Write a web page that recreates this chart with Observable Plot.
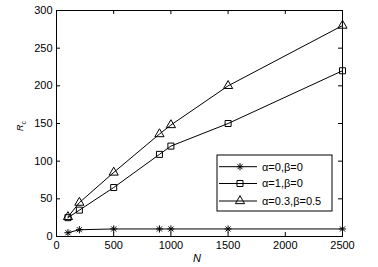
<!DOCTYPE html>
<html><head><meta charset="utf-8">
<script src="https://cdn.jsdelivr.net/npm/d3@7"></script>
<script src="https://cdn.jsdelivr.net/npm/@observablehq/plot@0.6"></script>
<style>body{margin:0;background:#fff}</style>
</head><body><div id="chart"></div>
<script>
const N = [100, 200, 500, 900, 1000, 1500, 2500];
const seriesA = [5, 9, 10, 10, 10, 10, 10];        // α=0,β=0
const seriesB = [25, 35, 65, 109, 120, 150, 220];  // α=1,β=0
const seriesC = [26, 45, 85, 136, 148, 200, 280];  // α=0.3,β=0.5
const labels = ["α=0,β=0", "α=1,β=0", "α=0.3,β=0.5"];
const xTicks = [0, 500, 1000, 1500, 2000, 2500];
const yTicks = [0, 50, 100, 150, 200, 250, 300];

// 8-armed asterisk like MATLAB '*'
const star8 = {
  draw(ctx, size) {
    const r = Math.sqrt(size / Math.PI) * 1.05;
    const d = r * Math.SQRT1_2;
    ctx.moveTo(-r, 0); ctx.lineTo(r, 0);
    ctx.moveTo(0, -r); ctx.lineTo(0, r);
    ctx.moveTo(-d, -d); ctx.lineTo(d, d);
    ctx.moveTo(-d, d); ctx.lineTo(d, -d);
  }
};
const symbols = [star8, d3.symbolSquare, d3.symbolTriangle];

const series = [seriesA, seriesB, seriesC];
const data = series.flatMap((vals, k) => vals.map((v, i) => ({N: N[i], R: v, k})));

const W = 378, H = 267, mL = 56, mR = 36, mT = 10, mB = 31;
const ph = H - mT - mB, pw = W - mL - mR;

const svg = Plot.plot({
  width: W, height: H,
  marginLeft: mL, marginRight: mR, marginTop: mT, marginBottom: mB,
  style: {fontFamily: "'Liberation Sans', Arial, sans-serif", fontSize: "11px", color: "#000", background: "#fff"},
  x: {domain: [0, 2500]},
  y: {domain: [0, 300]},
  marks: [
    Plot.axisX(xTicks, {tickSize: 0, tickPadding: 5, label: null, fontSize: 11, tickFormat: d => String(d)}),
    Plot.axisY(yTicks, {tickSize: 0, tickPadding: 4, label: null, fontSize: 11, tickFormat: d => String(d)}),
    Plot.tickX(xTicks, {x: d => d, insetTop: ph - 4, stroke: "#000"}),
    Plot.tickX(xTicks, {x: d => d, insetBottom: ph - 4, stroke: "#000"}),
    Plot.tickY(yTicks, {y: d => d, insetRight: pw - 4, stroke: "#000"}),
    Plot.tickY(yTicks, {y: d => d, insetLeft: pw - 4, stroke: "#000"}),
    Plot.line(data, {x: "N", y: "R", z: "k", stroke: "#000", strokeWidth: 1}),
    Plot.dot(data, {x: "N", y: "R", symbol: d => symbols[d.k], stroke: "#000", fill: "none", r: 3.4, strokeWidth: 1}),
    Plot.frame({stroke: "#000", strokeWidth: 1})
  ]
});
document.getElementById("chart").appendChild(svg);

const s = d3.select(svg);
// Axis labels
s.append("text").attr("x", 197).attr("y", 262).attr("text-anchor", "middle")
  .attr("font-style", "italic").attr("font-size", 11).attr("fill", "#000").text("N");
const yl = s.append("text").attr("transform", "translate(23,126) rotate(-90)")
  .attr("text-anchor", "middle").attr("font-size", 9).attr("fill", "#000");
yl.append("tspan").attr("font-style", "italic").text("R");
yl.append("tspan").attr("font-size", 7).attr("dy", 3).text("c");

// Legend
const lg = s.append("g");
lg.append("rect").attr("x", 217).attr("y", 155).attr("width", 115).attr("height", 56)
  .attr("fill", "#fff").attr("stroke", "#000").attr("stroke-width", 1);
const rowsY = [166.7, 183.5, 201];
labels.forEach((lab, k) => {
  const y = rowsY[k];
  lg.append("line").attr("x1", 219).attr("x2", 257).attr("y1", y).attr("y2", y).attr("stroke", "#000");
  lg.append("path").attr("transform", `translate(240,${y})`)
    .attr("d", d3.symbol(symbols[k], Math.PI * 3.4 * 3.4)()).attr("fill", "none").attr("stroke", "#000");
  lg.append("text").attr("x", 262).attr("y", y).attr("dy", "0.35em").attr("text-anchor", "start")
    .attr("font-size", 11).attr("fill", "#000").text(lab);
});
</script>
</body></html>
